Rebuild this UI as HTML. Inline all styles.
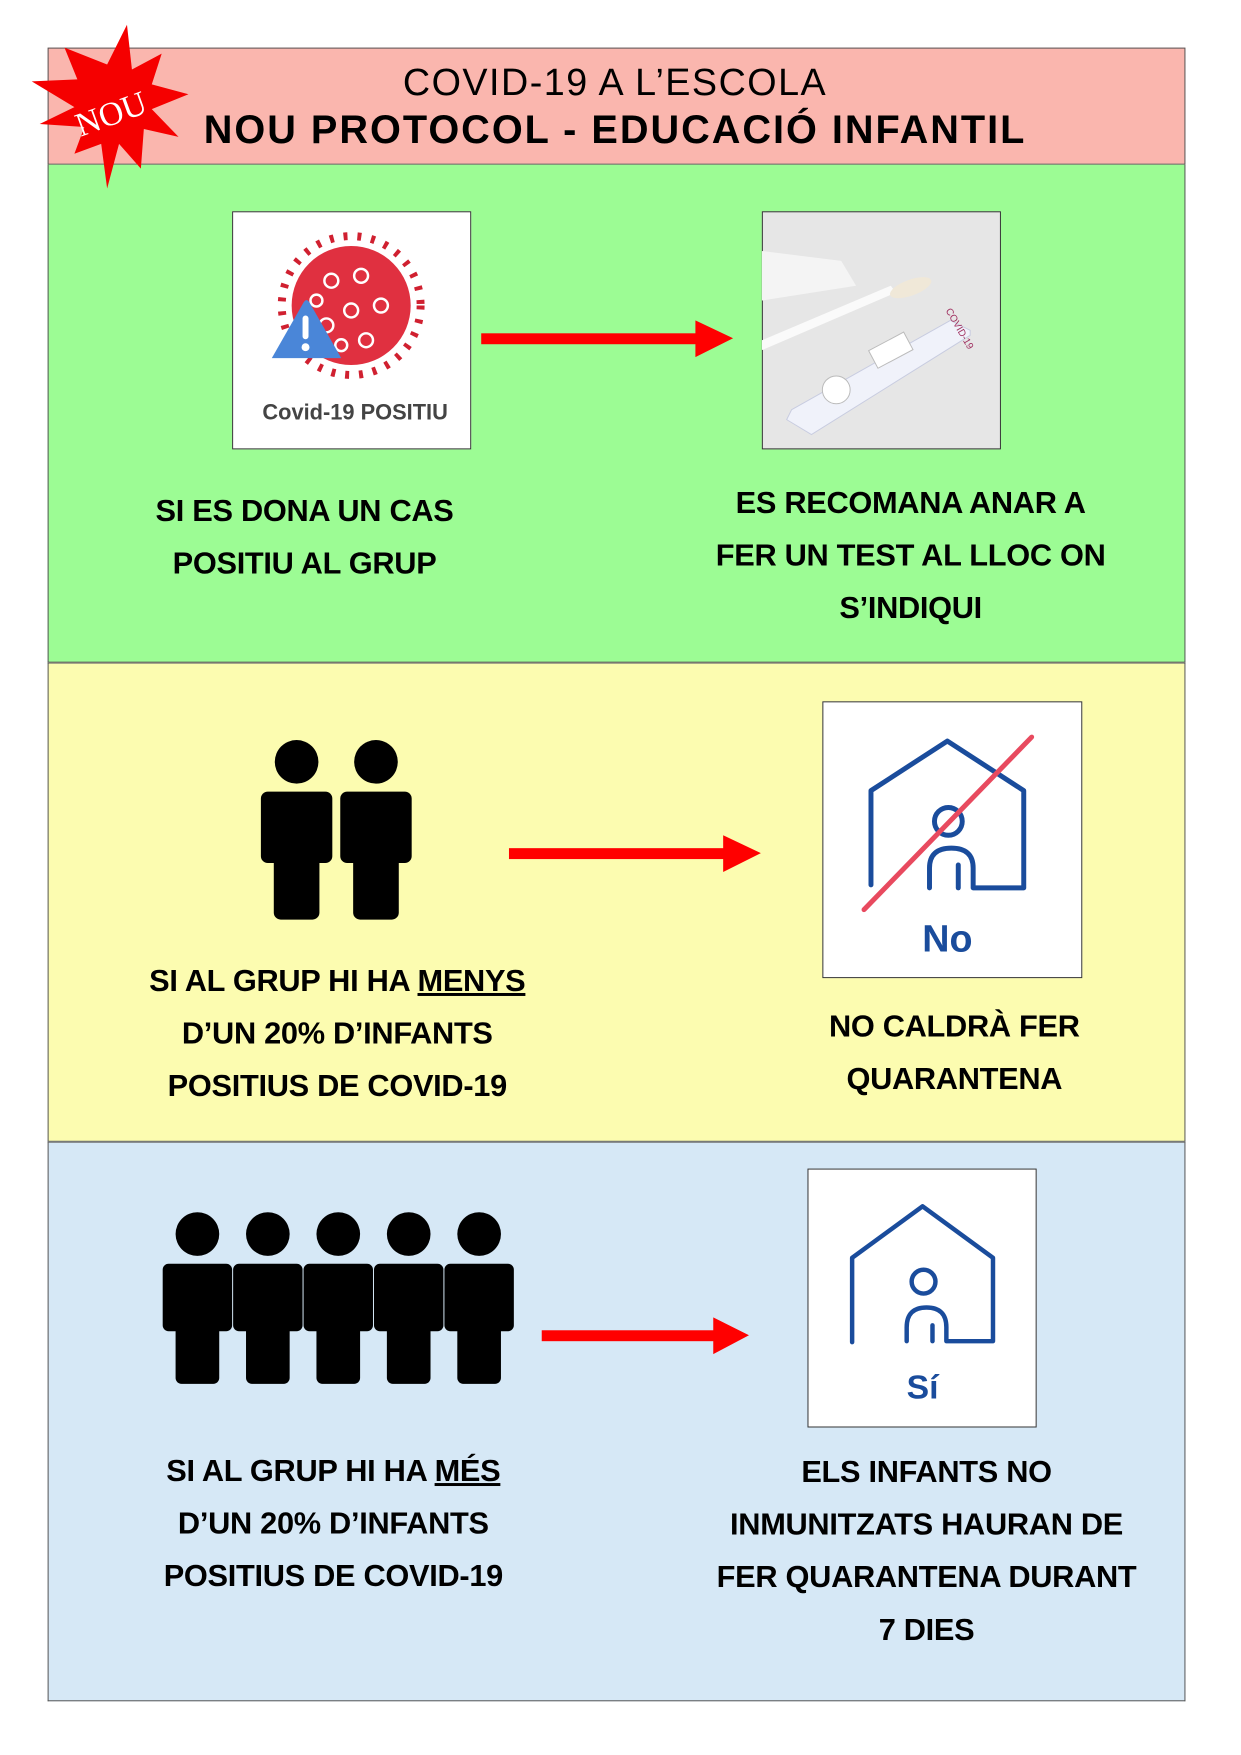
<!DOCTYPE html>
<html><head><meta charset="utf-8"><style>
body{margin:0;width:1241px;height:1755px;background:#fff;position:relative;font-family:"Liberation Sans",sans-serif;overflow:hidden}
#w{position:absolute;left:0;top:0;width:1241px;height:1755px;transform:scale(0.992);transform-origin:0 0}
.a{position:absolute}
.t{position:absolute;font-weight:bold;font-size:31px;text-align:center;line-height:53px;color:#000;letter-spacing:-0.3px}
.box{position:absolute;background:#fff;border:1.5px solid #333;box-sizing:border-box}
</style></head><body><div id="w">
<div class="a" style="left:48px;top:48px;width:1147px;height:118px;background:#fab6ae;border:1.5px solid #555;box-sizing:border-box"></div>
<div class="a" style="left:48px;top:166px;width:1147px;height:502px;background:#9cfc94;border:1.5px solid #555;border-top:none;box-sizing:border-box"></div>
<div class="a" style="left:48px;top:668px;width:1147px;height:483px;background:#fcfcb0;border:1.5px solid #555;border-top:1px solid #777;box-sizing:border-box"></div>
<div class="a" style="left:48px;top:1151px;width:1147px;height:564px;background:#d6e8f6;border:1.5px solid #555;border-top:1px solid #777;box-sizing:border-box"></div>

<div class="a" style="left:150px;top:62px;width:940px;text-align:center;font-size:38px;line-height:44px;letter-spacing:1.5px">COVID-19 A L’ESCOLA</div>
<div class="a" style="left:100px;top:108px;width:1040px;text-align:center;font-size:40px;font-weight:bold;line-height:46px;letter-spacing:2px">NOU PROTOCOL - EDUCACIÓ INFANTIL</div>

<svg class="a" style="left:20px;top:20px" width="180" height="175" viewBox="0 0 180 175">
<polygon fill="#f50000" points="108,5 113,50 143,34 133,65 170,75 133,90 160,118 125,110 122,150 100,125 88,170 82,125 55,135 65,108 20,105 55,88 12,62 58,60 45,28 88,45" />
<text x="92" y="106" transform="rotate(-20 92 95)" text-anchor="middle" font-family="Liberation Serif,serif" font-size="34" fill="#fff">NOU</text>
</svg>

<div class="box" style="left:234px;top:213px;width:241px;height:240px"></div>
<svg class="a" style="left:234px;top:213px" width="241" height="240">
<circle cx="120" cy="95" r="60" fill="#e03040"/>
<circle cx="120" cy="95" r="70" fill="none" stroke="#d02030" stroke-width="8" stroke-dasharray="4 10"/>
<g fill="none" stroke="#fff" stroke-width="2.5"><circle cx="100" cy="70" r="7"/><circle cx="130" cy="65" r="7"/><circle cx="150" cy="95" r="7"/><circle cx="120" cy="100" r="7"/><circle cx="95" cy="115" r="7"/><circle cx="135" cy="130" r="7"/><circle cx="110" cy="135" r="6"/><circle cx="85" cy="90" r="6"/></g>
<path d="M40,148 L72,92 Q75,87 78,92 L110,148 Z" fill="#4a86d8"/>
<rect x="71" y="105" width="6" height="24" rx="3" fill="#fff"/><circle cx="74" cy="137" r="4" fill="#fff"/>
<text x="124" y="210" text-anchor="middle" font-size="22" font-weight="bold" fill="#444">Covid-19 POSITIU</text>
</svg>
<div class="box" style="left:768px;top:213px;width:241px;height:240px;background:#e6e6e6"></div>
<svg class="a" style="left:768px;top:213px" width="241" height="240">
<path d="M0,40 L80,50 L95,75 L0,90 Z" fill="#f4f4f4"/>
<path d="M0,130 L130,75 L135,82 L0,140 Z" fill="#fafafa"/>
<ellipse cx="150" cy="77" rx="22" ry="8" fill="#f0e8d8" transform="rotate(-20 150 77)"/>
<path d="M30,200 L190,110 L210,120 L210,125 L50,225 L25,210 Z" fill="#f0f2fa" stroke="#c8cce0"/>
<rect x="110" y="130" width="40" height="20" fill="#fff" stroke="#bbb" transform="rotate(-28 130 140)"/>
<circle cx="75" cy="180" r="14" fill="#fff" stroke="#bbb"/>
<text x="185" y="100" font-size="10" fill="#a03060" transform="rotate(60 185 100)">COVID-19</text>
</svg>
<svg class="a" style="left:485px;top:320px" width="260" height="44"><rect x="0" y="16" width="218" height="11" fill="#f00"/><polygon points="216,3 254,21 216,40" fill="#f00"/></svg>
<div class="t" style="left:97px;top:488px;width:420px">SI ES DONA UN CAS<br>POSITIU AL GRUP</div>
<div class="t" style="left:678px;top:480px;width:480px">ES RECOMANA ANAR A<br>FER UN TEST AL LLOC ON<br>S’INDIQUI</div>

<svg class="a" style="left:258px;top:745px" width="165" height="185">
<g fill="#000"><circle cx="41" cy="23" r="22"/><rect x="5" y="53" width="72" height="72" rx="7"/><rect x="18" y="110" width="46" height="72" rx="7"/>
<circle cx="121" cy="23" r="22"/><rect x="85" y="53" width="72" height="72" rx="7"/><rect x="98" y="110" width="46" height="72" rx="7"/></g>
</svg>
<svg class="a" style="left:513px;top:839px" width="260" height="44"><rect x="0" y="16" width="218" height="11" fill="#f00"/><polygon points="216,3 254,21 216,40" fill="#f00"/></svg>
<div class="box" style="left:829px;top:707px;width:262px;height:279px"></div>
<svg class="a" style="left:829px;top:707px" width="262" height="279">
<g fill="none" stroke="#1a4c9c" stroke-width="5" stroke-linecap="round" stroke-linejoin="round">
<path d="M49,185 L49,90 L126,40 L203,90 L203,188 L152,188 L152,168 Q152,148 130,148 Q108,148 108,168 L108,188"/>
<path d="M137,165 L137,188"/><circle cx="127" cy="121" r="14"/></g>
<line x1="42" y1="210" x2="211" y2="36" stroke="#e84a5f" stroke-width="5" stroke-linecap="round"/>
<text x="126" y="252" text-anchor="middle" font-size="38" font-weight="bold" fill="#1a4c9c">No</text>
</svg>
<div class="t" style="left:110px;top:962px;width:460px">SI AL GRUP HI HA <u>MENYS</u><br>D’UN 20% D’INFANTS<br>POSITIUS DE COVID-19</div>
<div class="t" style="left:752px;top:1008px;width:420px">NO CALDRÀ FER<br>QUARANTENA</div>

<svg class="a" style="left:155px;top:1210px" width="375" height="190">
<g fill="#000" id="p"><circle cx="44" cy="34" r="22"/><rect x="9" y="64" width="70" height="68" rx="6"/><rect x="22" y="120" width="44" height="65" rx="6"/></g>
<use href="#p" x="71"/><use href="#p" x="142"/><use href="#p" x="213"/><use href="#p" x="284"/>
</svg>
<svg class="a" style="left:546px;top:1325px" width="260" height="44"><rect x="0" y="16" width="175" height="11" fill="#f00"/><polygon points="173,3 209,21 173,40" fill="#f00"/></svg>
<div class="box" style="left:814px;top:1178px;width:231px;height:261px"></div>
<svg class="a" style="left:814px;top:1178px" width="231" height="261">
<g fill="none" stroke="#1a4c9c" stroke-width="4.5" stroke-linecap="round" stroke-linejoin="round">
<path d="M45,175 L45,90 L116,38 L187,90 L187,174 L140,174 L140,160 Q140,140 120,140 Q100,140 100,160 L100,174"/>
<path d="M126,158 L126,174"/><circle cx="117" cy="114" r="12"/></g>
<text x="116" y="232" text-anchor="middle" font-size="34" font-weight="bold" fill="#1a4c9c">Sí</text>
</svg>
<div class="t" style="left:106px;top:1456px;width:460px">SI AL GRUP HI HA <u>MÉS</u><br>D’UN 20% D’INFANTS<br>POSITIUS DE COVID-19</div>
<div class="t" style="left:689px;top:1457px;width:490px">ELS INFANTS NO<br>INMUNITZATS HAURAN DE<br>FER QUARANTENA DURANT<br>7 DIES</div>
</div></body></html>
